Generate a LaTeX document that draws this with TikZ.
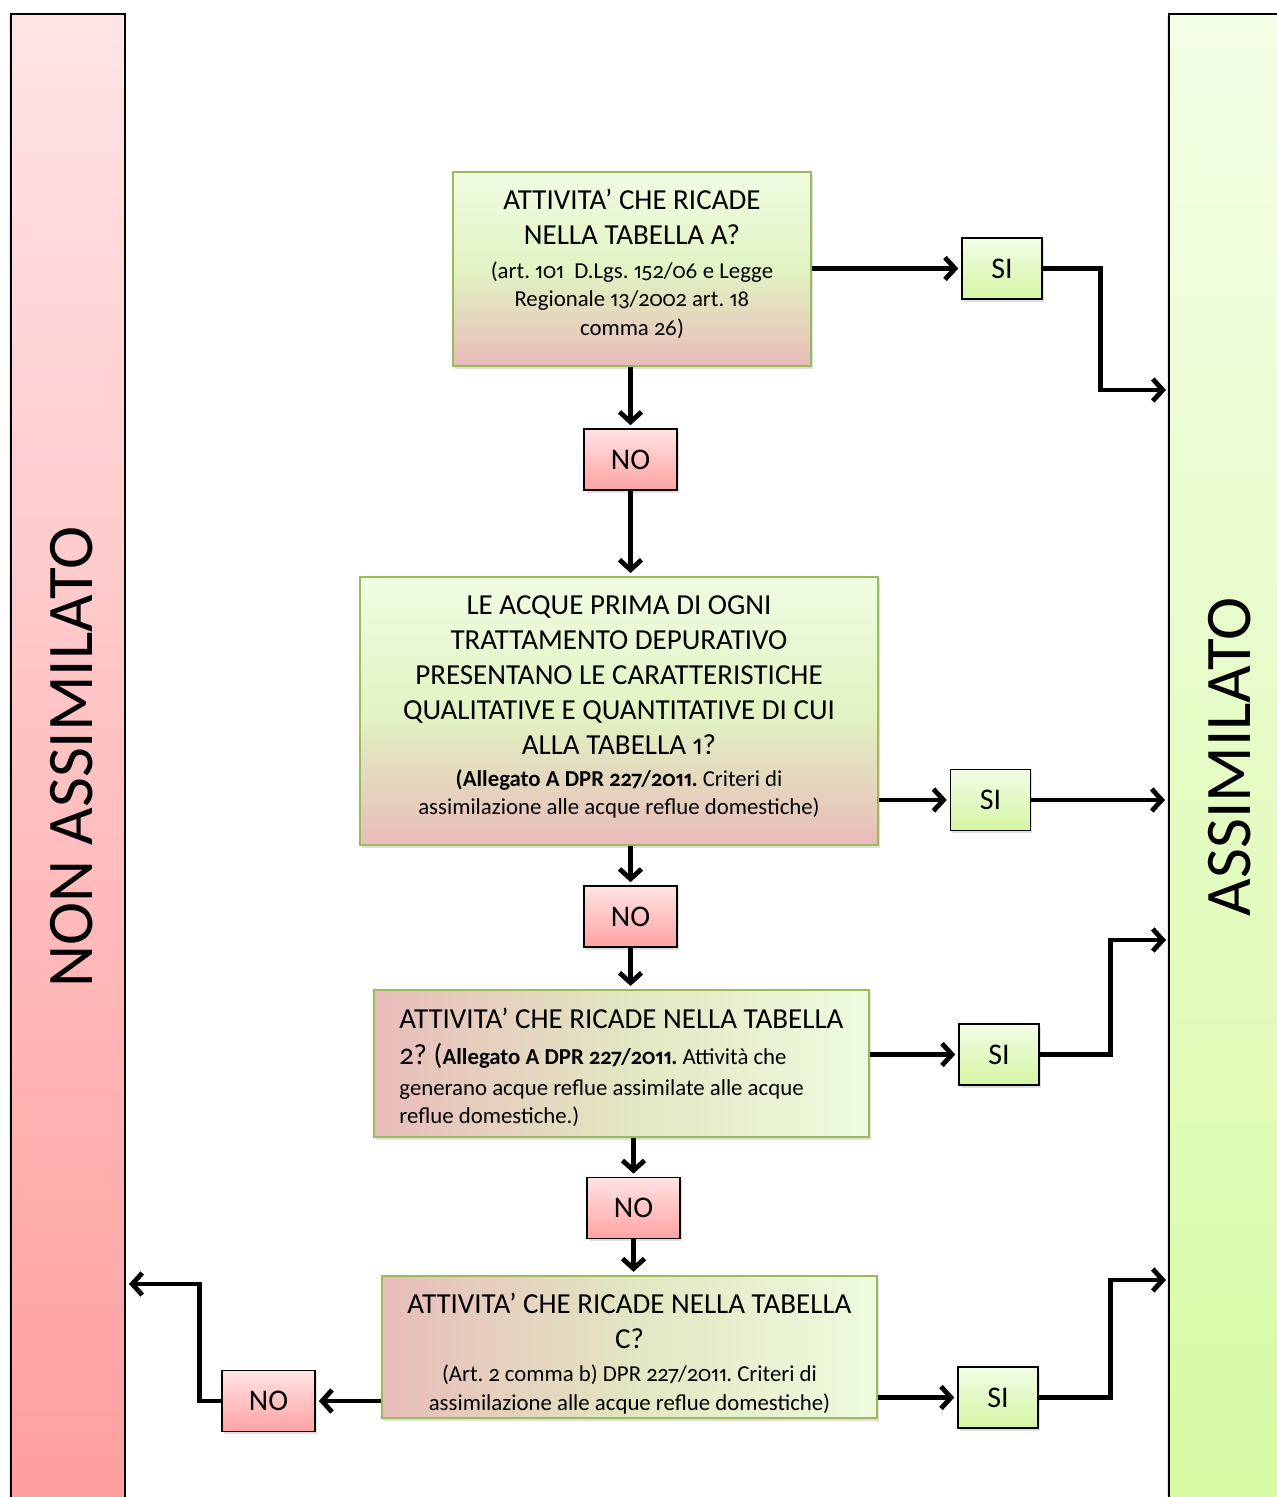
\documentclass[tikz,border=0pt]{standalone}
\usepackage{fontspec}
\setmainfont{Carlito}[Numbers={OldStyle,Proportional}]
\usetikzlibrary{arrows.meta,shadows}
\usepackage{xcolor}
\frenchspacing

\definecolor{boxline}{HTML}{9BBB59}
\definecolor{qtop}{HTML}{F0FCE2}
\definecolor{qmid}{HTML}{E1F4C3}
\definecolor{qbot}{HTML}{E8BCB9}
\definecolor{hleft}{HTML}{E8BCBA}
\definecolor{hmid}{HTML}{E3E6C2}
\definecolor{hright}{HTML}{EEFBDE}
\definecolor{sitop}{HTML}{F2FDE6}
\definecolor{sibot}{HTML}{D5F5A3}
\definecolor{notop}{HTML}{FFE3E3}
\definecolor{nobot}{HTML}{FFA3A3}
\definecolor{nontop}{HTML}{FFE4E6}
\definecolor{nonbot}{HTML}{FF9D9D}
\definecolor{asstop}{HTML}{F3FEE6}
\definecolor{assbot}{HTML}{D7FAA3}

\newcommand{\tit}[1]{{\fontsize{14.5}{17.5}\selectfont #1}}

\begin{document}
\begin{tikzpicture}[x=0.5pt,y=-0.5pt]
	 \tikzstyle{question}=[rectangle,draw=boxline,line width=1pt,inner sep=2pt,align=center,font=\fontsize{11.4}{14.3}\selectfont\frenchspacing,drop shadow={opacity=0.25,shadow xshift=0.8pt,shadow yshift=-1.4pt}]
	 \tikzstyle{vquestion}=[question,top color=qtop,bottom color=qbot,middle color=qmid]
	 \tikzstyle{hquestion}=[question,left color=hleft,right color=hright,middle color=hmid]
	 \tikzstyle{answer}=[rectangle,draw=black,line width=0.8pt,minimum width=40pt,minimum height=30.5pt,font=\fontsize{15}{18}\selectfont,drop shadow={opacity=0.25,shadow xshift=0.8pt,shadow yshift=-1.4pt}]
	 \tikzstyle{yes box}=[answer,top color=sitop,bottom color=sibot]
	 \tikzstyle{no box}=[answer,minimum width=46.5pt,top color=notop,bottom color=nobot]
	 \tikzstyle{bar}=[rectangle,draw=black,line width=1pt,minimum height=758pt,drop shadow={opacity=0.2,shadow xshift=-0.8pt,shadow yshift=-0.8pt}]
	 \tikzstyle{edge}=[draw,line width=2.4pt,-{Straight Barb[length=5pt,width=11pt]},shorten >=1.5pt]

	 \useasboundingbox (0,0) rectangle (1277,1497);

	 % side columns
	 \node[bar,minimum width=57pt,top color=nontop,bottom color=nonbot] (nonass) at (68,772) {};
	 \node[bar,minimum width=65.5pt,top color=asstop,bottom color=assbot] (ass) at (1234.5,772) {};
	 \node[rotate=90,font=\fontsize{32.5}{36}\selectfont] (nonasslab) at (72,757) {NON ASSIMILATO};
	 \node[rotate=90,font=\fontsize{32.5}{36}\selectfont] (asslab) at (1230,757) {ASSIMILATO};

	 % questions
	 \node[vquestion,minimum width=179pt,minimum height=97pt] (q1) at (632,269)
		{\tit{ATTIVITA’ CHE RICADE}\\[3.2pt]\tit{NELLA TABELLA A?}\\[2.7pt](art. 101~ D.Lgs. 152/06 e Legge\\Regionale 13/2002 art. 18\\comma 26)\rule[-7pt]{0pt}{0pt}};
	 \node[vquestion,minimum width=259pt,minimum height=134pt] (q2) at (619,711)
		{\tit{LE ACQUE PRIMA DI OGNI}\\[3.2pt]\tit{TRATTAMENTO DEPURATIVO}\\[3.2pt]\tit{PRESENTANO LE CARATTERISTICHE}\\[3.2pt]\tit{QUALITATIVE E QUANTITATIVE DI CUI}\\[3.2pt]\tit{ALLA TABELLA 1?}\\[1.7pt]\textbf{(Allegato A DPR 227/2011.} Criteri di\\assimilazione alle acque reflue domestiche)\rule[-6pt]{0pt}{0pt}};
	 \node[hquestion,align=left,minimum width=247.5pt,minimum height=73.5pt] (q3) at (621.5,1063.5)
		{\rule{0pt}{14pt}\tit{ATTIVITA’ CHE RICADE NELLA TABELLA}\\[4pt]\tit{2? (}\textbf{Allegato A DPR 227/2011.} Attività che\\[1pt]generano acque reflue assimilate alle acque\\reflue domestiche.)};
	 \node[hquestion,minimum width=247.5pt,minimum height=71pt] (q4) at (629.5,1347)
		{\rule{0pt}{17pt}\tit{ATTIVITA’ CHE RICADE NELLA TABELLA}\\[3.2pt]\tit{C?}\\[2.2pt](Art. 2 comma b) DPR 227/2011. Criteri di\\assimilazione alle acque reflue domestiche)};

	 % answers
	 \node[yes box] (si1) at (1002,268.5) {SI};
	 \node[no box] (no1) at (630.5,459.5) {NO};
	 \node[yes box] (si2) at (990.5,800) {SI};
	 \node[no box] (no2) at (630.5,916.5) {NO};
	 \node[yes box] (si3) at (999,1054.5) {SI};
	 \node[no box] (no3) at (633.5,1208) {NO};
	 \node[no box] (no4) at (268.5,1401) {NO};
	 \node[yes box] (si4) at (998,1397.5) {SI};

	 % entry points on the columns
	 \coordinate (in1) at (1169,390);
	 \coordinate (in3) at (1169,940);
	 \coordinate (in4) at (1169,1280);
	 \coordinate (out4) at (126,1284);

	 \draw[edge] (q1.east |- si1) -- (si1.west);
	 \draw[edge] (si1.east) -- ++(58,0) |- (in1);
	 \draw[edge] (q1.south -| no1) -- (no1.north);
	 \draw[edge] (no1.south) -- (no1 |- q2.north);
	 \draw[edge] (q2.east |- si2) -- (si2.west);
	 \draw[edge] (si2.east) -- (si2 -| ass.west);
	 \draw[edge] (q2.south -| no2) -- (no2.north);
	 \draw[edge] (no2.south) -- (no2 |- q3.north);
	 \draw[edge] (q3.east |- si3) -- (si3.west);
	 \draw[edge] (si3.east) -- ++(71,0) |- (in3);
	 \draw[edge] (q3.south -| no3) -- (no3.north);
	 \draw[edge] (no3.south) -- (no3 |- q4.north);
	 \draw[edge] (q4.west |- no4) -- (no4.east);
	 \draw[edge] (no4.west) -- ++(-22,0) |- (out4);
	 \draw[edge] (q4.east |- si4) -- (si4.west);
	 \draw[edge] (si4.east) -- ++(72,0) |- (in4);
 \end{tikzpicture}
\end{document}
